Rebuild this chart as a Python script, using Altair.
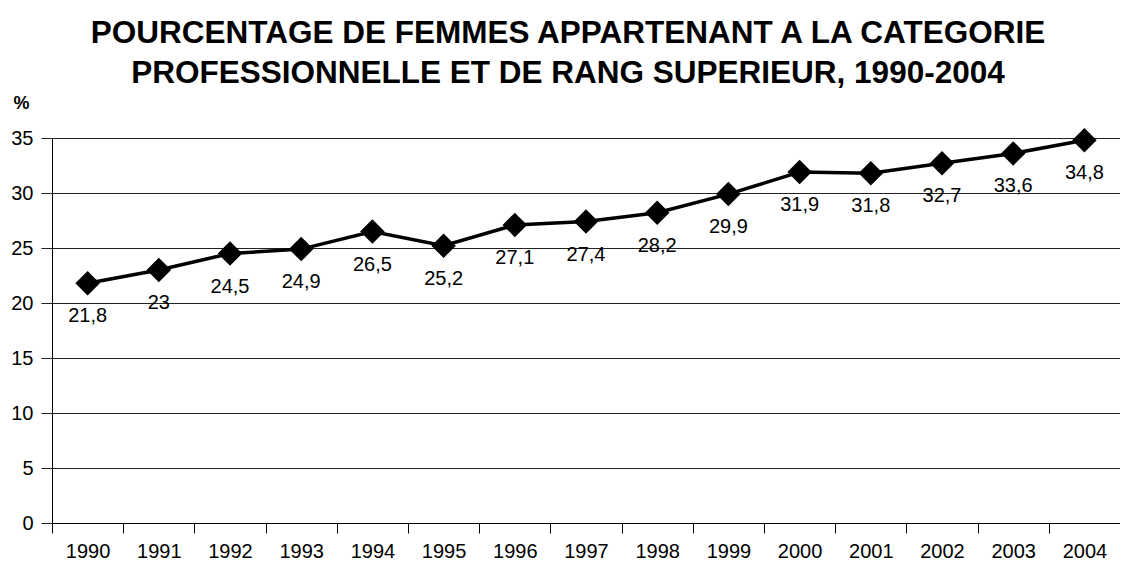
import altair as alt
import pandas as pd

years = [str(y) for y in range(1990, 2005)]
values = [21.8, 23, 24.5, 24.9, 26.5, 25.2, 27.1, 27.4, 28.2, 29.9, 31.9, 31.8, 32.7, 33.6, 34.8]
labels = [str(v).replace(".", ",") for v in values]

df = pd.DataFrame({"year": years, "value": values, "label": labels})

FONT = "Liberation Sans"

x = alt.X("year:O", title=None, sort=years,
          scale=alt.Scale(paddingInner=0, paddingOuter=0),
          axis=alt.Axis(labelAngle=0, tickBand="extent", tickSize=10, labelPadding=8,
                        labelFontSize=20, labelColor="black", domainColor="black",
                        tickColor="black", grid=False, labelFont=FONT))
y = alt.Y("value:Q", title="%", scale=alt.Scale(domain=[0, 35], nice=False),
          axis=alt.Axis(values=[0, 5, 10, 15, 20, 25, 30, 35], tickSize=11, labelPadding=8,
                        labelFontSize=20, labelColor="black", domainColor="black",
                        tickColor="#222", gridColor="#222", grid=True, labelFont=FONT,
                        titleAngle=0, titleX=-31, titleY=-35, titleAlign="center",
                        titleBaseline="middle", titleFontSize=18, titleFont=FONT,
                        titleFontWeight="bold", titleColor="black"))

base = alt.Chart(df).encode(x=x, y=y)

line = base.mark_line(color="black", strokeWidth=3.5)
pts = base.mark_point(shape="diamond", filled=True, size=600, color="black", opacity=1)
txt = base.mark_text(dy=33, fontSize=20, font=FONT, color="black", baseline="middle").encode(text="label:N")

chart = (line + pts + txt).properties(
    width=1068, height=385,
    title=alt.TitleParams(
        text=["POURCENTAGE DE FEMMES APPARTENANT A LA CATEGORIE",
              "PROFESSIONNELLE ET DE RANG SUPERIEUR, 1990-2004"],
        fontSize=31.5, font=FONT, fontWeight="bold", color="black",
        lineHeight=40, anchor="middle", dx=-18, offset=5),
    autosize=alt.AutoSizeParams(type="none"),
    padding={"left": 44, "top": 130, "right": 0, "bottom": 40},
    background="white",
).configure_view(strokeWidth=0)

chart.save("out.html", embed_options={"renderer": "svg", "actions": False})
